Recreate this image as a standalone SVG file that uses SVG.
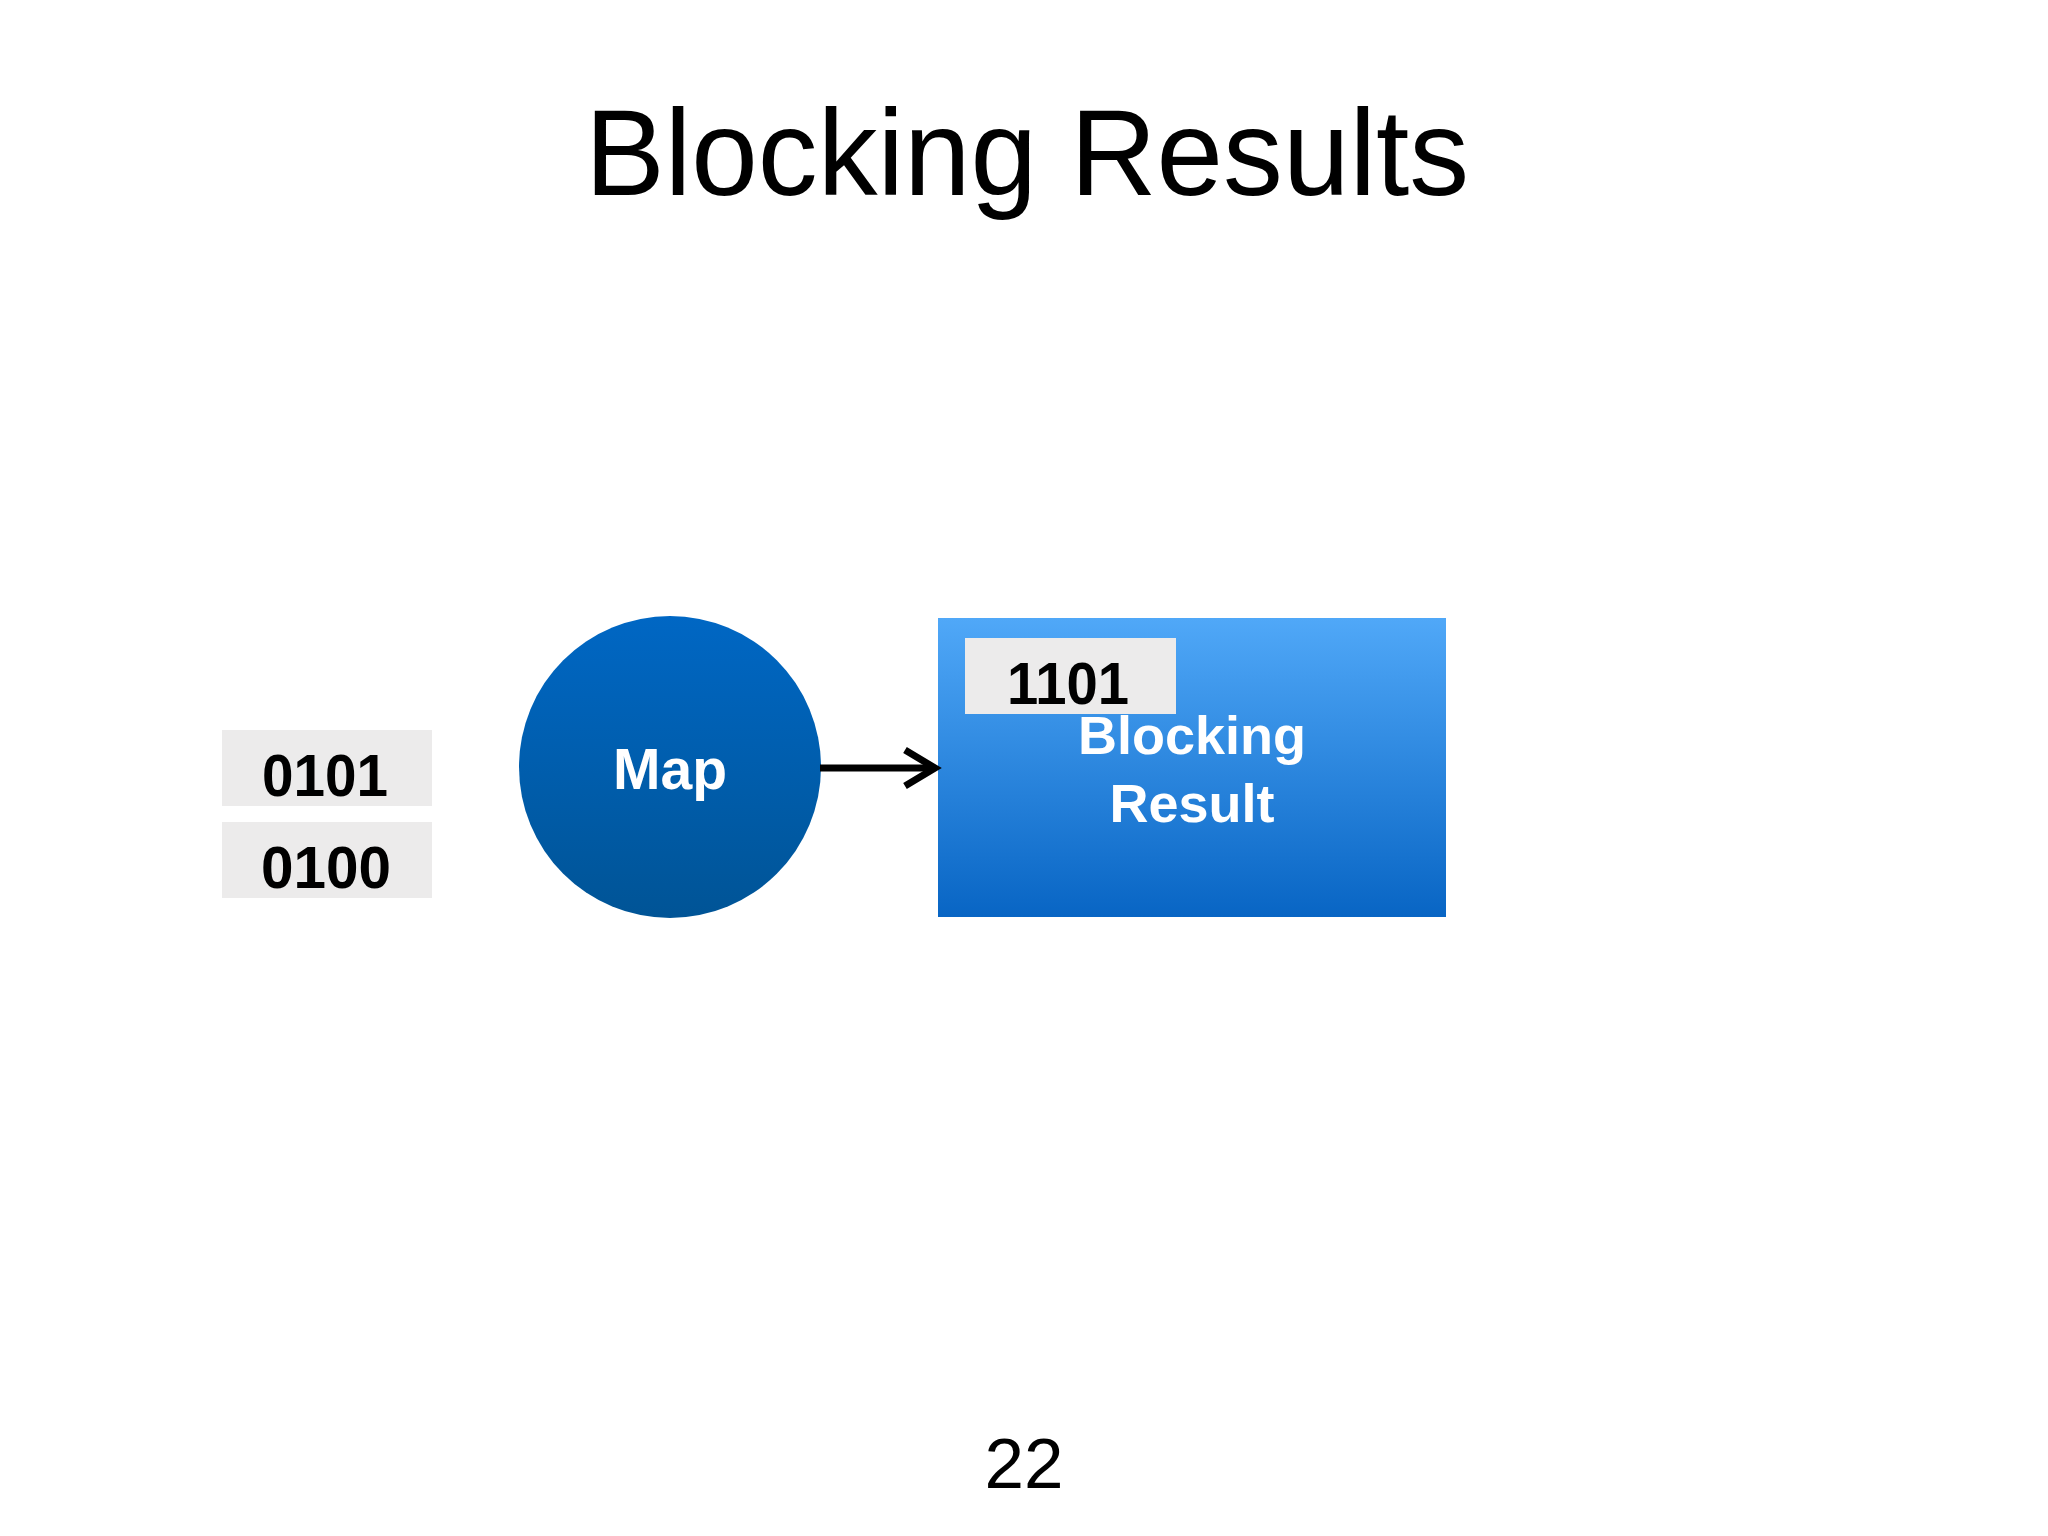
<svg xmlns="http://www.w3.org/2000/svg" width="2048" height="1536" viewBox="0 0 2048 1536">
  <defs>
    <linearGradient id="gCircle" x1="0" y1="0" x2="0" y2="1">
      <stop offset="0" stop-color="#0067c4"/>
      <stop offset="1" stop-color="#005496"/>
    </linearGradient>
    <linearGradient id="gBox" x1="0" y1="0" x2="0" y2="1">
      <stop offset="0" stop-color="#50a8f8"/>
      <stop offset="1" stop-color="#0865c4"/>
    </linearGradient>
  </defs>
  <style>
    .title { font-family: "Liberation Sans", Arial, sans-serif; font-size: 123px; fill: #000; }
    .page { font-family: "Liberation Sans", Arial, sans-serif; font-size: 71px; fill: #000; }
    .bits { font-family: "Liberation Sans", Arial, sans-serif; font-weight: bold; font-size: 59px; fill: #000; text-anchor: middle; }
    .label { font-family: "Liberation Sans", Arial, sans-serif; font-weight: bold; fill: #fff; text-anchor: middle; }
    .chip { fill: #ecebeb; }
    .conn { stroke: #000; stroke-width: 7; fill: none; }
  </style>
  <rect width="2048" height="1536" fill="#ffffff"/>
  <text class="title" x="1027" y="195" text-anchor="middle" textLength="884" lengthAdjust="spacingAndGlyphs">Blocking Results</text>

  <g id="input-0101">
    <rect class="chip" x="222" y="730" width="210" height="76"/>
    <text class="bits" x="325" y="796" textLength="126" lengthAdjust="spacingAndGlyphs">0101</text>
  </g>
  <g id="input-0100">
    <rect class="chip" x="222" y="822" width="210" height="76"/>
    <text class="bits" x="326" y="888" textLength="130" lengthAdjust="spacingAndGlyphs">0100</text>
  </g>

  <g id="map">
    <circle cx="670" cy="767" r="151" fill="url(#gCircle)"/>
    <text class="label" x="670" y="789" font-size="57">Map</text>
  </g>

  <g id="blocking-result">
    <rect x="938" y="618" width="508" height="299" fill="url(#gBox)"/>
    <text class="label" x="1192" y="754" font-size="54">Blocking</text>
    <text class="label" x="1192" y="822" font-size="54">Result</text>
    <g id="output-1101">
      <rect class="chip" x="965" y="638" width="211" height="76"/>
      <text class="bits" x="1068" y="704" textLength="122" lengthAdjust="spacingAndGlyphs">1101</text>
    </g>
  </g>

  <g id="connectors">
    <line class="conn" x1="820" y1="768" x2="934" y2="768"/>
    <polyline class="conn" points="905,750 935,768 905,786"/>
  </g>

  <text class="page" x="1024" y="1488" text-anchor="middle">22</text>
</svg>
